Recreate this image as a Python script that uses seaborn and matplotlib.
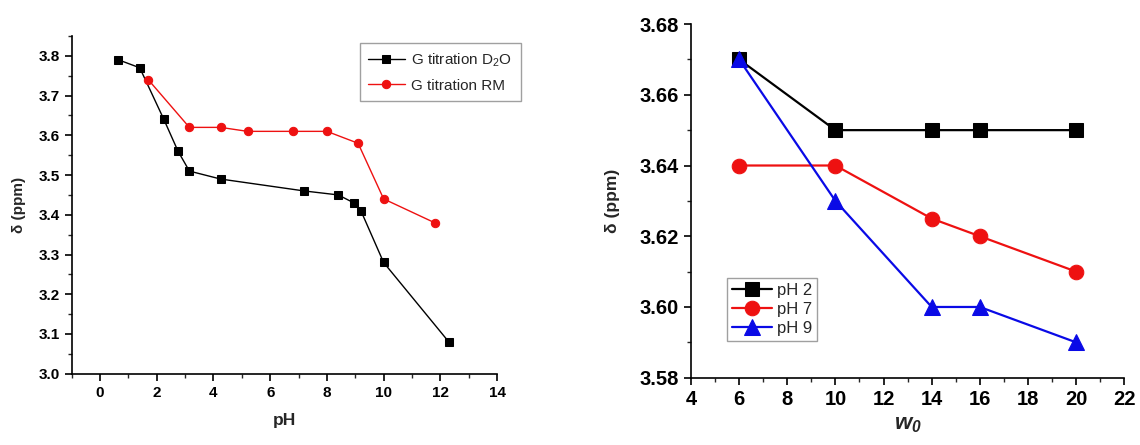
import matplotlib
matplotlib.use("Agg")
import matplotlib.pyplot as plt
import seaborn as sns
import pandas as pd
from matplotlib.ticker import MultipleLocator

# ---- data: left panel ----
ph_d2o = [0.65, 1.4, 2.25, 2.75, 3.15, 4.25, 7.2, 8.4, 8.95, 9.2, 10.0, 12.3]
delta_d2o = [3.79, 3.77, 3.64, 3.56, 3.51, 3.49, 3.46, 3.45, 3.43, 3.41, 3.28, 3.08]
ph_rm = [1.7, 3.15, 4.25, 5.2, 6.8, 8.0, 9.1, 10.0, 11.8]
delta_rm = [3.74, 3.62, 3.62, 3.61, 3.61, 3.61, 3.58, 3.44, 3.38]

# ---- data: right panel ----
w0 = [6, 10, 14, 16, 20]
ph2 = [3.67, 3.65, 3.65, 3.65, 3.65]
ph7 = [3.64, 3.64, 3.625, 3.62, 3.61]
ph9 = [3.67, 3.63, 3.60, 3.60, 3.59]

sns.set_style("ticks")
plt.rcParams['font.family'] = ['Liberation Sans', 'DejaVu Sans']
plt.rcParams['mathtext.fontset'] = 'custom'
plt.rcParams['mathtext.rm'] = 'Liberation Sans'
plt.rcParams['mathtext.it'] = 'Liberation Sans:italic'
plt.rcParams['mathtext.bf'] = 'Liberation Sans:italic:bold'

fig = plt.figure(figsize=(11.4, 4.45), dpi=100)
ax1 = fig.add_axes([0.0629, 0.1602, 0.3731, 0.7589])
ax2 = fig.add_axes([0.6061, 0.1512, 0.3801, 0.7948])

RED = "#ee1111"
BLUE = "#0a0ae6"

df1 = pd.DataFrame({"x": ph_d2o, "y": delta_d2o})
df2 = pd.DataFrame({"x": ph_rm, "y": delta_rm})
sns.lineplot(data=df1, x="x", y="y", ax=ax1, color="black", marker="s", markersize=5.5,
             markeredgecolor="black", linewidth=1.0, label="G titration D$_2$O", sort=False)
sns.lineplot(data=df2, x="x", y="y", ax=ax1, color=RED, marker="o", markersize=6,
             markerfacecolor=RED, markeredgecolor=RED, linewidth=1.0,
             label="G titration RM", sort=False)
ax1.set_xlim(-1, 14)
ax1.set_ylim(3.0, 3.85)
ax1.xaxis.set_major_locator(MultipleLocator(2))
ax1.xaxis.set_minor_locator(MultipleLocator(1))
ax1.yaxis.set_minor_locator(MultipleLocator(0.05))
ax1.set_yticks([3.0, 3.1, 3.2, 3.3, 3.4, 3.5, 3.6, 3.7, 3.8])
ax1.set_xlabel("pH", fontsize=12.5, fontweight="bold", labelpad=10)
ax1.set_ylabel("δ (ppm)", fontsize=11, fontweight="bold", labelpad=9)
sns.despine(ax=ax1)
ax1.tick_params(axis="both", which="major", direction="out", length=5, width=1.2,
                labelsize=11, colors="black")
ax1.tick_params(axis="both", which="minor", direction="out", length=3, width=1)
for lbl in ax1.get_xticklabels() + ax1.get_yticklabels():
    lbl.set_fontweight("bold")
for s in ax1.spines.values():
    s.set_linewidth(1.2)
    s.set_color("black")
leg1 = ax1.legend(loc="upper right", bbox_to_anchor=(1.056, 0.979), fontsize=11,
                  frameon=True, fancybox=False, edgecolor="#888888", handlelength=2.4,
                  borderpad=0.55, labelspacing=0.65, handletextpad=0.45, borderaxespad=0.0)
leg1.get_frame().set_linewidth(1.0)

# ---- right panel ----
series = [("pH 2", ph2, "black", "s", 10), ("pH 7", ph7, RED, "o", 10.5), ("pH 9", ph9, BLUE, "^", 11)]
for name, vals, col, mk, ms in series:
    d = pd.DataFrame({"x": w0, "y": vals})
    sns.lineplot(data=d, x="x", y="y", ax=ax2, color=col, marker=mk, markersize=ms,
                 markerfacecolor=col, markeredgecolor=col, linewidth=1.6, label=name, sort=False)
ax2.set_xlim(4, 22)
ax2.set_ylim(3.58, 3.68)
ax2.xaxis.set_major_locator(MultipleLocator(2))
ax2.xaxis.set_minor_locator(MultipleLocator(1))
ax2.yaxis.set_minor_locator(MultipleLocator(0.01))
ax2.set_yticks([3.58, 3.60, 3.62, 3.64, 3.66, 3.68])
ax2.set_yticklabels(["3.58", "3.60", "3.62", "3.64", "3.66", "3.68"])
ax2.set_xlabel(r"$\mathbf{w_0}$", fontsize=16, labelpad=4)
ax2.set_ylabel("δ (ppm)", fontsize=12.5, fontweight="bold", labelpad=14)
sns.despine(ax=ax2)
ax2.tick_params(axis="both", which="major", direction="out", length=5, width=1.2,
                labelsize=14.5, colors="black")
ax2.tick_params(axis="both", which="minor", direction="out", length=3, width=1)
for lbl in ax2.get_xticklabels() + ax2.get_yticklabels():
    lbl.set_fontweight("bold")
for s in ax2.spines.values():
    s.set_linewidth(1.2)
    s.set_color("black")
leg2 = ax2.legend(loc="lower left", bbox_to_anchor=(0.083, 0.104), fontsize=12,
                  frameon=True, fancybox=False, edgecolor="#888888", handlelength=2.4,
                  borderpad=0.3, labelspacing=0.25, handletextpad=0.3, borderaxespad=0.0)
leg2.get_frame().set_linewidth(1.0)

fig.savefig("out.png", dpi=100)
